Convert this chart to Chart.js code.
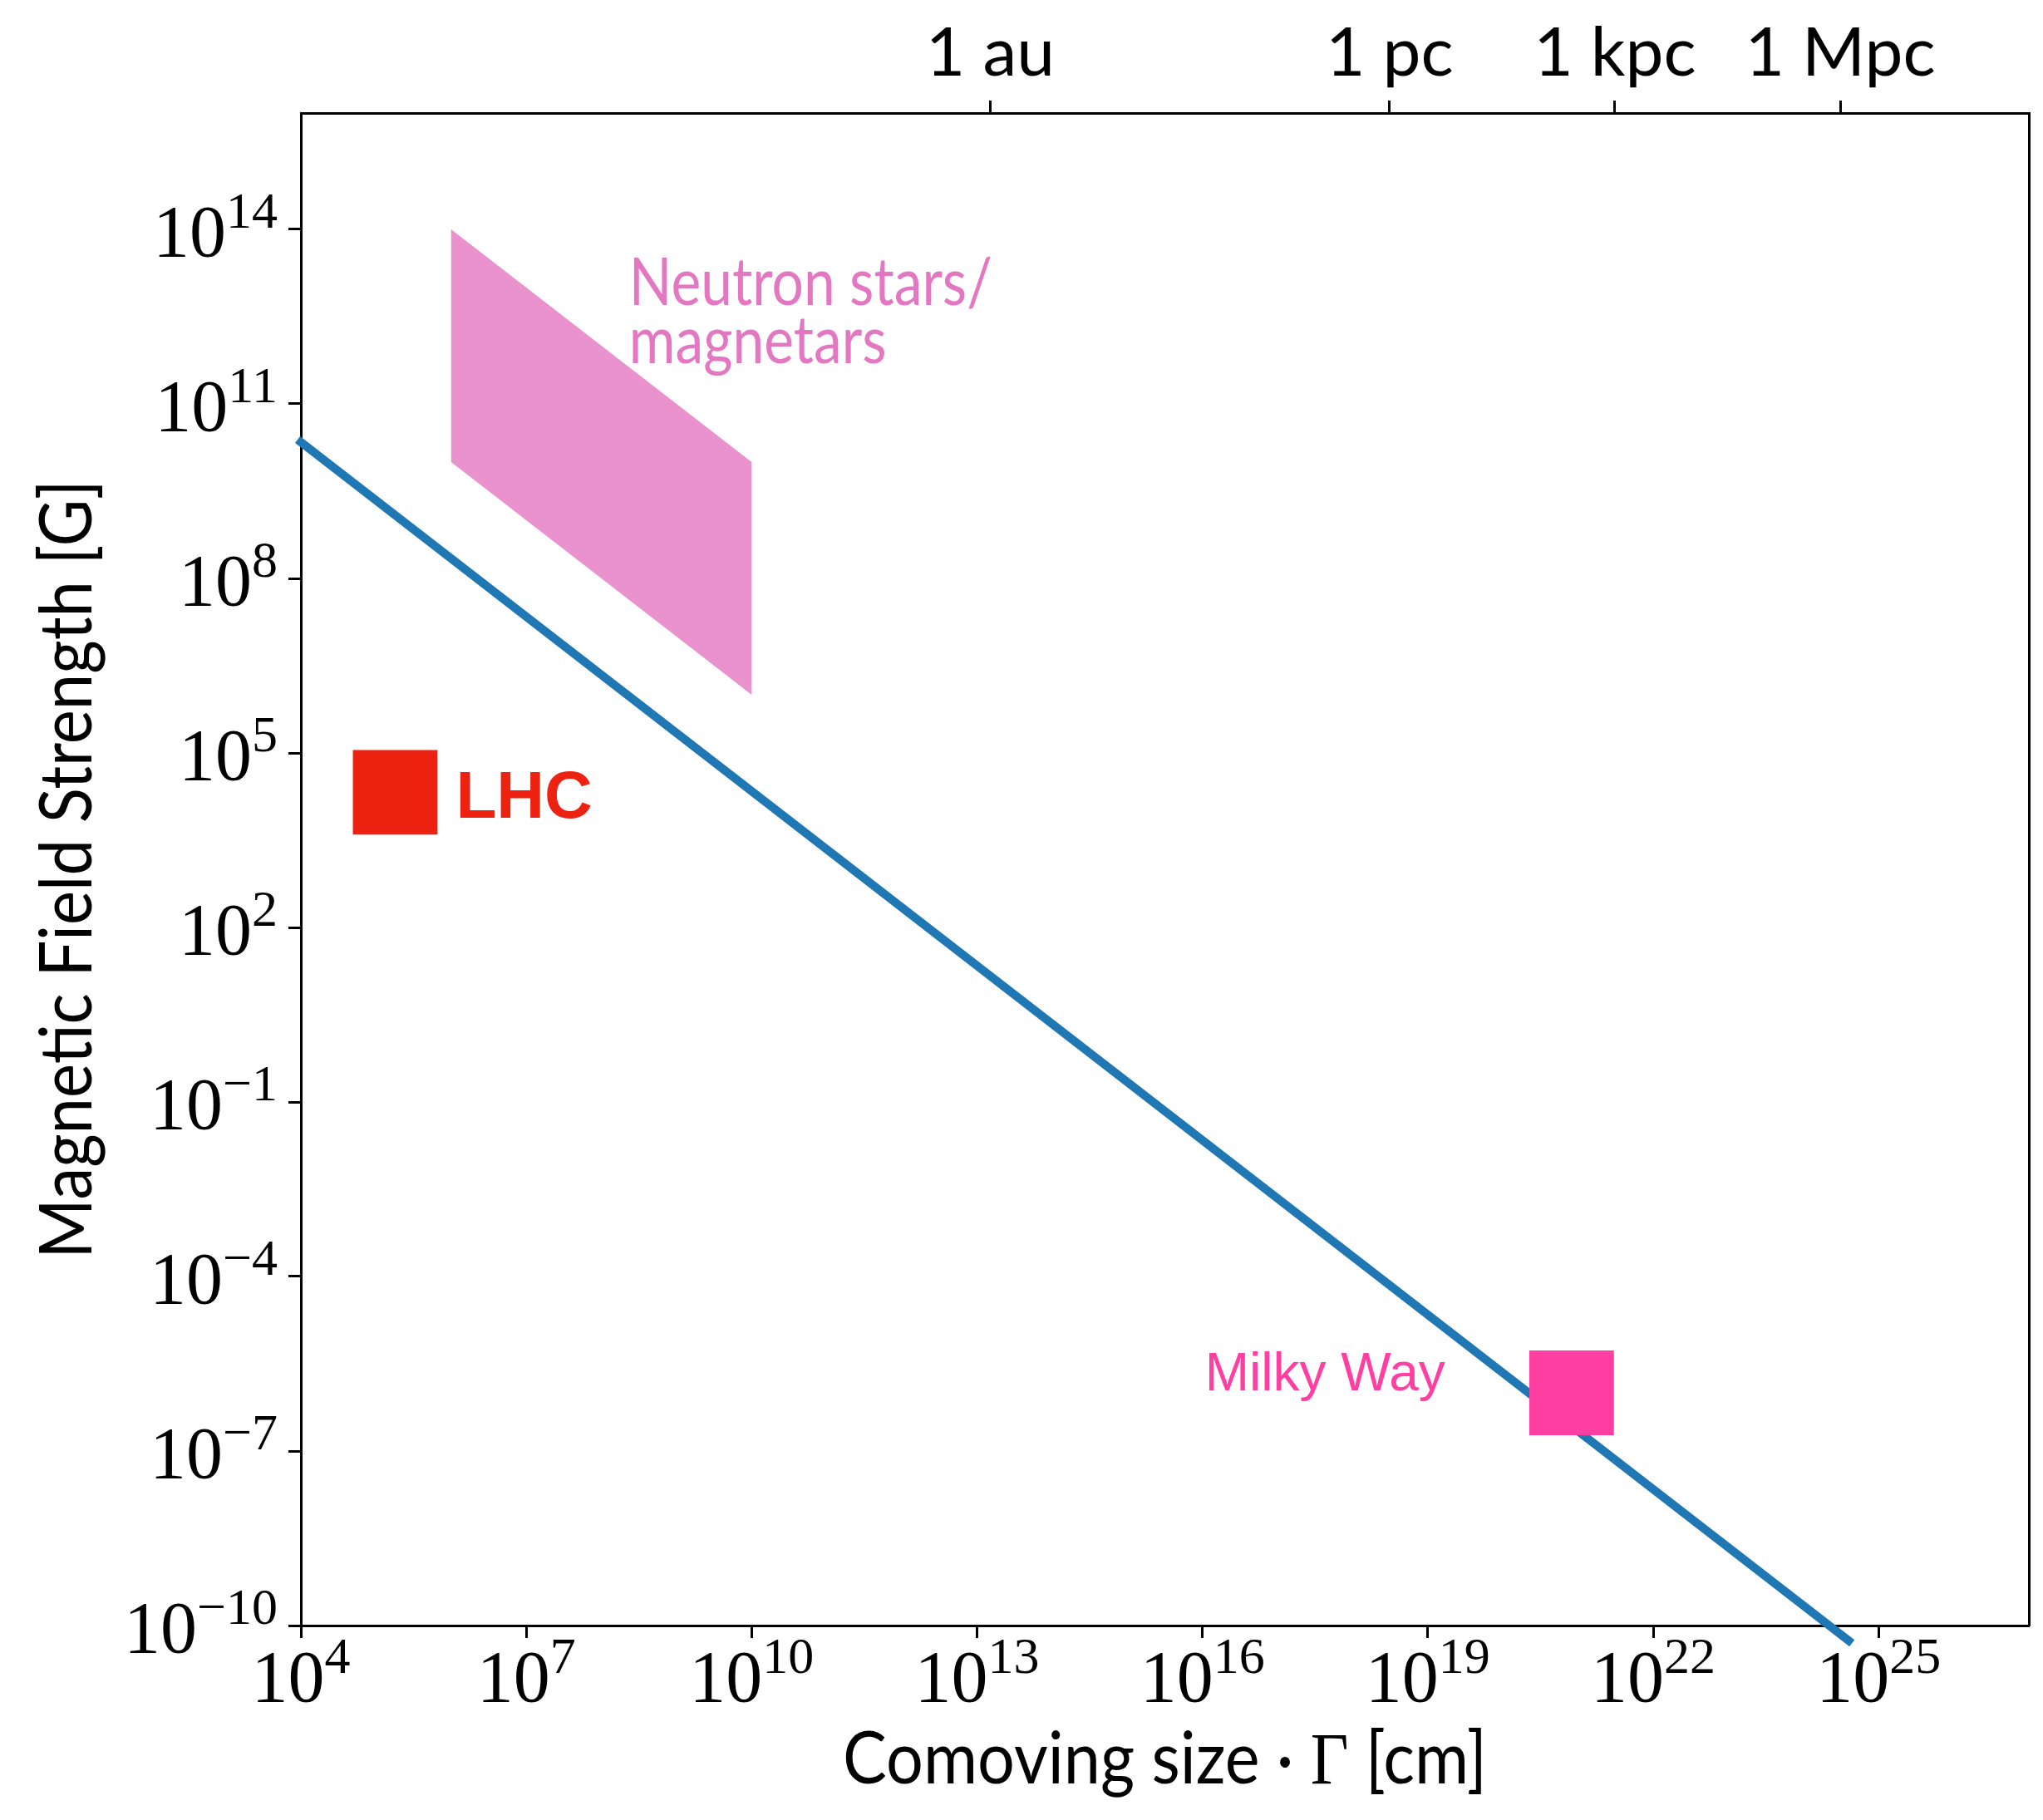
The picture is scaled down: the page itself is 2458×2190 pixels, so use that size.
<!DOCTYPE html>
<html lang="en">
<head>
<meta charset="UTF-8" />
<title>Magnetic field strength vs size</title>
<script src="https://cdn.jsdelivr.net/npm/chart.js"></script>
<style>
  html, body { margin: 0; padding: 0; background: #fff; overflow: hidden; }
  #chart { display: block; }
</style>
</head>
<body>
<canvas id="chart" width="2458" height="2190"></canvas>
<script>
// tick positions (cm on x, Gauss on y)
const xTicks = [1e4, 1e7, 1e10, 1e13, 1e16, 1e19, 1e22, 1e25];
const yTicks = [1e-10, 1e-7, 1e-4, 1e-1, 1e2, 1e5, 1e8, 1e11, 1e14];
// distance units on the top axis
const distTicks = [1.496e13, 3.086e18, 3.086e21, 3.086e24];
const distLabels = ["1 au", "1 pc", "1 kpc", "1 Mpc"];

// confinement limit line
const limitSize = [1e4, 4e24];
const limitField = [2.2e10, 5.5e-11];

// neutron star / magnetar region, polygon corners
const nsSize = [1e6, 1e10, 1e10, 1e6];
const nsField = [1e14, 1e10, 1e6, 1e10];

// single sources
const srcNames = ["LHC", "Milky Way"];
const srcSize = [1.8e5, 8.2e20];
const srcField = [2.1e4, 1e-6];
const srcColors = ["#ee2211", "#ff40a2"];

const SERIF = '"Liberation Serif", "DejaVu Serif", serif';
const SANS = 'Lato, "Open Sans", sans-serif';
const ARIAL = '"Liberation Sans", Arial, sans-serif';

const toPts = (xs, ys) => xs.map((x, i) => ({ x: x, y: ys[i] }));

const datasets = [];
srcNames.forEach((name, i) => {
  datasets.push({
    label: name,
    data: [{ x: srcSize[i], y: srcField[i] }],
    pointStyle: "rect",
    pointRadius: 72,
    backgroundColor: srcColors[i],
    borderWidth: 0,
  });
});
datasets.push({
  label: "limit",
  data: toPts(limitSize, limitField),
  showLine: true,
  borderColor: "#1f77b4",
  borderWidth: 10,
  borderCapStyle: "square",
  pointRadius: 0,
  clip: false,
});
datasets.push({
  label: "Neutron stars",
  data: toPts(nsSize, nsField),
  showLine: true,
  fill: "shape",
  backgroundColor: "rgba(227, 119, 194, 0.8)",
  borderWidth: 0,
  pointRadius: 0,
});

// "10" with a raised exponent
function drawPow(ctx, v, px, base, align) {
  const e = Math.round(Math.log10(v));
  const sup = e < 0 ? "\u2212" + -e : String(e);
  ctx.font = "88px " + SERIF;
  const wb = ctx.measureText("10").width;
  ctx.font = "62px " + SERIF;
  const ws = ctx.measureText(sup).width;
  const left = align === "center" ? px - (wb + ws) / 2 : px - (wb + ws);
  ctx.textAlign = "left";
  ctx.textBaseline = "alphabetic";
  ctx.font = "88px " + SERIF;
  ctx.fillText("10", left, base);
  ctx.font = "62px " + SERIF;
  ctx.fillText(sup, left + wb, base - 34);
}

const textPlugin = {
  id: "textPlugin",
  afterDraw(chart) {
    const ctx = chart.ctx;
    const sx = chart.scales.x, sy = chart.scales.y, st = chart.scales.x2;
    const area = chart.chartArea;
    ctx.save();
    ctx.fillStyle = "#000";

    xTicks.forEach((v) => drawPow(ctx, v, sx.getPixelForValue(v), area.bottom + 91, "center"));
    yTicks.forEach((v) => drawPow(ctx, v, area.left - 28, sy.getPixelForValue(v) + 32, "right"));

    ctx.font = "82px " + SANS;
    ctx.textAlign = "center";
    distTicks.forEach((v, i) => ctx.fillText(distLabels[i], st.getPixelForValue(v), area.top - 45));

    // x title, with a serif Gamma, squeezed to 775px
    const parts = [["Comoving size \u00b7 ", SANS], ["\u0393", SERIF], [" [cm]", SANS]];
    let w = 0;
    parts.forEach((p) => { ctx.font = "88px " + p[1]; w += ctx.measureText(p[0]).width; });
    const k = 775 / w;
    ctx.save();
    ctx.translate((area.left + area.right) / 2 - 775 / 2, 2146);
    ctx.scale(k, 1);
    ctx.textAlign = "left";
    let cx = 0;
    parts.forEach((p) => {
      ctx.font = "88px " + p[1];
      ctx.fillText(p[0], cx, 0);
      cx += ctx.measureText(p[0]).width;
    });
    ctx.restore();

    // y title
    ctx.save();
    ctx.translate(110, 1046);
    ctx.rotate(-Math.PI / 2);
    ctx.textAlign = "center";
    ctx.font = "88px " + SANS;
    ctx.fillText("Magnetic Field Strength [G]", 0, 0, 937);
    ctx.restore();

    // region and source labels
    ctx.textAlign = "left";
    ctx.fillStyle = "#e377c2";
    ctx.font = "80px " + SANS;
    const nx = sx.getPixelForValue(nsSize[0]) + 214;
    const ny = sy.getPixelForValue(nsField[0]) + 91;
    const kn = 437 / ctx.measureText("Neutron stars/").width;
    ctx.save();
    ctx.translate(nx, ny);
    ctx.scale(kn, 1);
    ctx.fillText("Neutron stars/", 0, 0);
    ctx.fillText("magnetars", 0, 70);
    ctx.restore();

    const lx = sx.getPixelForValue(srcSize[0]), ly = sy.getPixelForValue(srcField[0]);
    ctx.fillStyle = srcColors[0];
    ctx.font = "bold 80px " + ARIAL;
    ctx.fillText(srcNames[0], lx + 73, ly + 31);

    const mx = sx.getPixelForValue(srcSize[1]), my = sy.getPixelForValue(srcField[1]);
    ctx.fillStyle = srcColors[1];
    ctx.font = "64px " + ARIAL;
    ctx.textAlign = "right";
    ctx.fillText(srcNames[1], mx - 152, my - 3);
    ctx.restore();
  },
};

const axisGrid = { drawOnChartArea: false, drawTicks: true, tickLength: 15, tickWidth: 3, tickColor: "#000" };
const axisBorder = { display: true, color: "#000", width: 3 };

new Chart(document.getElementById("chart"), {
  type: "scatter",
  data: { datasets: datasets },
  options: {
    responsive: false,
    maintainAspectRatio: false,
    devicePixelRatio: 1,
    animation: false,
    events: [],
    layout: { padding: 0, autoPadding: false },
    plugins: { legend: { display: false }, tooltip: { enabled: false } },
    scales: {
      x: {
        type: "logarithmic", position: "bottom", min: 1e4, max: 1e27,
        afterBuildTicks: (s) => { s.ticks = xTicks.map((v) => ({ value: v })); },
        afterFit: (s) => { s.height = 234; },
        ticks: { display: false },
        grid: axisGrid, border: axisBorder,
      },
      x2: {
        axis: "x", type: "logarithmic", position: "top", min: 1e4, max: 1e27,
        afterBuildTicks: (s) => { s.ticks = distTicks.map((v) => ({ value: v })); },
        afterFit: (s) => { s.height = 136; },
        ticks: { display: false },
        grid: axisGrid, border: axisBorder,
      },
      y: {
        type: "logarithmic", position: "left", min: 1e-10, max: 1e16,
        afterBuildTicks: (s) => { s.ticks = yTicks.map((v) => ({ value: v })); },
        afterFit: (s) => { s.width = 362; },
        ticks: { display: false },
        grid: axisGrid, border: axisBorder,
      },
      y2: {
        axis: "y", type: "logarithmic", position: "right", min: 1e-10, max: 1e16,
        afterBuildTicks: (s) => { s.ticks = []; },
        afterFit: (s) => { s.width = 17; },
        ticks: { display: false },
        grid: { drawOnChartArea: false, drawTicks: false },
        border: axisBorder,
      },
    },
  },
  plugins: [textPlugin],
});
</script>
</body>
</html>
